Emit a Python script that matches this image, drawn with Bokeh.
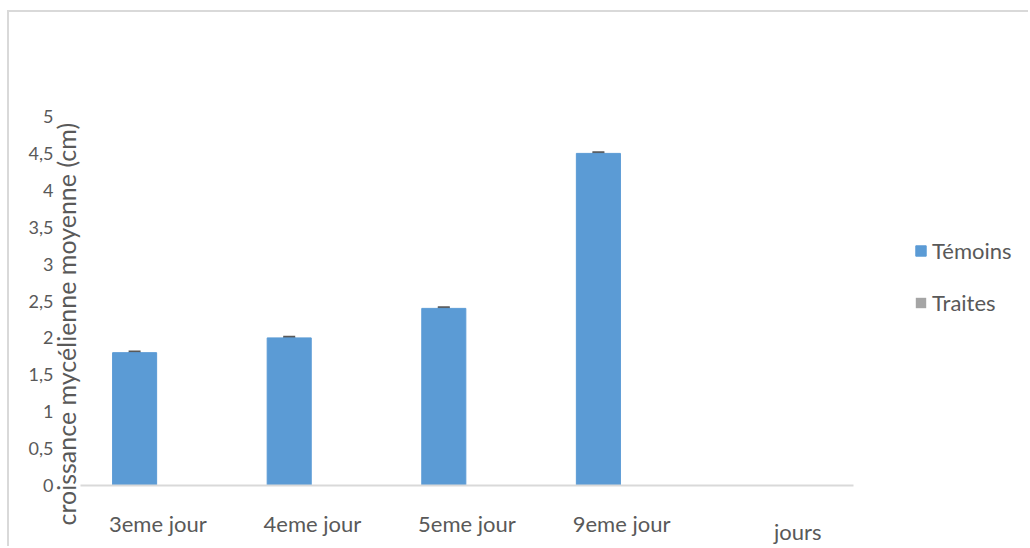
from bokeh.plotting import figure
from bokeh.models import (ColumnDataSource, Range1d, FixedTicker, LinearAxis,
                          CustomJSTickFormatter, Legend, LegendItem, Title,
                          Whisker, TeeHead)
from bokeh.embed import file_html
from bokeh.resources import INLINE

# Mean mycelial growth (cm) per day of observation
days = ["3eme jour", "4eme jour", "5eme jour", "9eme jour"]
temoins = [1.8, 2.0, 2.4, 4.5]
temoins_err = [0.01, 0.01, 0.01, 0.01]
traites = [0.0, 0.0, 0.0, 0.0]
y_ticks = [0, 0.5, 1, 1.5, 2, 2.5, 3, 3.5, 4, 4.5, 5]

BLUE = "#5B9BD5"
GREY = "#A5A5A5"
TEXT = "#595959"
FONT = "Lato"

# category slots: one unit per day plus an empty fifth slot; the plot area keeps
# going to the right so the legend can sit beside the bars
N_SLOTS = 5
X_END = 6.145
OFFSET = 0.15
BAR_W = 0.285
centers = [i + 0.5 for i in range(len(days))]

src = ColumnDataSource(dict(
    x_tem=[c - OFFSET for c in centers],
    x_tra=[c + OFFSET for c in centers],
    temoins=temoins,
    upper=[v + e for v, e in zip(temoins, temoins_err)],
    lower=[v - e for v, e in zip(temoins, temoins_err)],
    traites=traites,
))

# canvas sits inside a light chart-area frame drawn with CSS borders
p = figure(width=1021, height=536, x_range=Range1d(0, X_END), y_range=Range1d(0, 5),
           output_backend="svg", toolbar_location=None,
           min_border_left=71, min_border_right=0, min_border_top=104,
           min_border_bottom=63)
p.margin = (10, 0, 0, 7)
p.styles = {"border-left": "2px solid #D9D9D9", "border-top": "2px solid #D9D9D9"}
p.outline_line_color = None
p.grid.grid_line_color = None

r_tem = p.vbar(x="x_tem", top="temoins", width=BAR_W, source=src,
               fill_color=BLUE, line_color=BLUE)
r_tra = p.vbar(x="x_tra", top="traites", width=BAR_W, source=src,
               fill_color=GREY, line_color=None)

p.add_layout(Whisker(base="x_tem", upper="upper", lower="lower", source=src,
                     line_color=TEXT, line_width=1,
                     upper_head=TeeHead(size=12, line_color=TEXT, line_width=3),
                     lower_head=TeeHead(size=12, line_color=TEXT, line_width=3)))

# y axis: labels only, comma decimals
yaxis = p.yaxis[0]
yaxis.ticker = FixedTicker(ticks=y_ticks)
yaxis.formatter = CustomJSTickFormatter(code="return tick.toString().replace('.', ',');")
yaxis.axis_line_color = None
yaxis.major_tick_line_color = None
yaxis.minor_tick_line_color = None
yaxis.major_tick_out = 0
yaxis.major_tick_in = 0
yaxis.major_label_text_font = FONT
yaxis.major_label_text_font_size = "18px"
yaxis.major_label_text_color = TEXT
yaxis.major_label_standoff = -5

# x axis: light baseline over the five slots, day names under the bars
xaxis = p.xaxis[0]
xaxis.bounds = (0, N_SLOTS)
xaxis.ticker = FixedTicker(ticks=centers)
xaxis.formatter = CustomJSTickFormatter(args=dict(labels=days),
                                        code="return labels[Math.floor(tick)] || '';")
xaxis.axis_line_color = "#D9D9D9"
xaxis.axis_line_width = 2
xaxis.major_tick_line_color = None
xaxis.minor_tick_line_color = None
xaxis.major_tick_out = 0
xaxis.major_tick_in = 0
xaxis.major_label_text_font = FONT
xaxis.major_label_text_font_size = "22px"
xaxis.major_label_text_color = TEXT
xaxis.major_label_standoff = 24

# day title, set under the empty fifth slot
days_title = LinearAxis(ticker=FixedTicker(ticks=[4.64]),
                        formatter=CustomJSTickFormatter(code="return 'jours';"),
                        axis_line_color=None, major_tick_line_color=None,
                        minor_tick_line_color=None, major_tick_out=0, major_tick_in=0,
                        major_label_standoff=-22, major_label_text_font=FONT,
                        major_label_text_font_size="22px",
                        major_label_text_color=TEXT)
p.add_layout(days_title, "below")

# vertical value title, between the tick column and the bars
ytitle = Title(text="croissance mycélienne moyenne (cm)", align="left", offset=-40,
               standoff=0, text_font=FONT, text_font_size="25px",
               text_font_style="normal", text_color=TEXT)
p.left = [ytitle, yaxis]

legend = Legend(items=[LegendItem(label="Témoins", renderers=[r_tem]),
                       LegendItem(label="Traites", renderers=[r_tra])],
                location=(834, 169), orientation="vertical",
                glyph_width=13, glyph_height=13, label_standoff=5, spacing=25,
                padding=0, margin=0, border_line_alpha=0, background_fill_alpha=0,
                label_text_font=FONT, label_text_font_size="22px",
                label_text_color=TEXT)
p.add_layout(legend, "center")

open("out.html", "w").write(file_html(p, INLINE))
